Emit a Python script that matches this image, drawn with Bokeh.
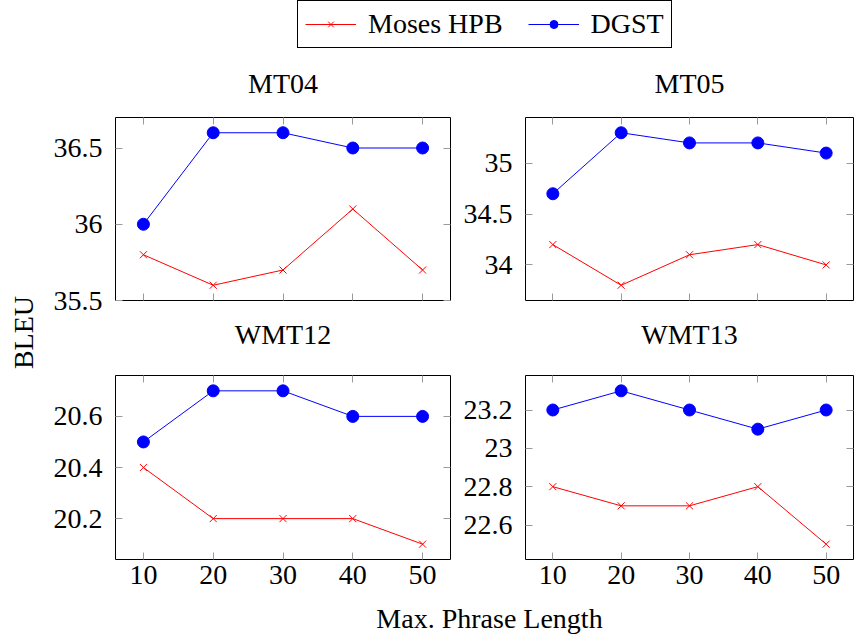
import math
from bokeh.plotting import figure
from bokeh.models import (FixedTicker, CustomJSTickFormatter, LinearAxis, Range1d,
                          Legend, LegendItem, Label)
from bokeh.layouts import column, row
from bokeh.embed import file_html
from bokeh.resources import INLINE

# ---------------- data ----------------
phrase_len = [10, 20, 30, 40, 50]
x_ticks = [10, 20, 30, 40, 50]

mt04_moses = [35.8, 35.6, 35.7, 36.1, 35.7]
mt04_dgst = [36.0, 36.6, 36.6, 36.5, 36.5]
mt05_moses = [34.2, 33.8, 34.1, 34.2, 34.0]
mt05_dgst = [34.7, 35.3, 35.2, 35.2, 35.1]
wmt12_moses = [20.4, 20.2, 20.2, 20.2, 20.1]
wmt12_dgst = [20.5, 20.7, 20.7, 20.6, 20.6]
wmt13_moses = [22.8, 22.7, 22.7, 22.8, 22.5]
wmt13_dgst = [23.2, 23.3, 23.2, 23.1, 23.2]

mt04_ticks = [35.5, 36, 36.5]
mt05_ticks = [34, 34.5, 35]
wmt12_ticks = [20.2, 20.4, 20.6]
wmt13_ticks = [22.6, 22.8, 23, 23.2]

series_names = ["Moses HPB", "DGST"]
titles = ["MT04", "MT05", "WMT12", "WMT13"]
x_label = "Max. Phrase Length"
y_label = "BLEU"

FONT = "Liberation Serif"
FS = "28px"
TICK_COLOR = "#9a9a9a"
RED = "#ff0000"
BLUE = "#0000ff"

num_fmt = CustomJSTickFormatter(code="return String(Math.round(tick*100)/100);")
blank_fmt = CustomJSTickFormatter(code="return '';")


def blank_fig(w, h, mbl=0, mbr=0):
    f = figure(width=w, height=h, title=None, x_range=Range1d(0, 1), y_range=Range1d(0, 1),
               output_backend="svg", toolbar_location=None,
               x_axis_location=None, y_axis_location=None,
               min_border_left=mbl, min_border_right=mbr, min_border_top=0, min_border_bottom=0)
    f.outline_line_color = None
    f.xgrid.visible = False
    f.ygrid.visible = False
    return f


def style_axis(ax, ticks, labels, standoff):
    ax.ticker = FixedTicker(ticks=ticks)
    ax.formatter = num_fmt if labels else blank_fmt
    ax.major_tick_in = 7
    ax.major_tick_out = 0
    ax.minor_tick_line_color = None
    ax.axis_line_color = None
    ax.major_tick_line_color = TICK_COLOR
    ax.major_tick_line_width = 1
    ax.major_label_text_font = FONT
    ax.major_label_text_font_size = FS if labels else "1px"
    ax.major_label_text_color = "black"
    ax.major_label_standoff = standoff if labels else 0


def panel(title, moses, dgst, yticks, width, th, title_y, height, mbl, mbr, mbt, mbb, xlabels):
    # title strip with the same side borders, so its centre lines up with the frame
    tf = blank_fig(width, th, mbl, mbr)
    tf.add_layout(Label(x=0.5, y=title_y, y_units="screen", text=title,
                        text_align="center", text_baseline="middle",
                        text_font=FONT, text_font_size=FS, text_color="black"))
    xlo, xhi = min(phrase_len), max(phrase_len)
    dx = 0.1 * (xhi - xlo)
    ys = moses + dgst
    ylo, yhi = min(ys), max(ys)
    dy = 0.1 * (yhi - ylo)
    p = figure(width=width, height=height, title=None,
               x_range=Range1d(xlo - dx, xhi + dx), y_range=Range1d(ylo - dy, yhi + dy),
               output_backend="svg", toolbar_location=None,
               min_border_left=mbl, min_border_right=mbr,
               min_border_top=mbt, min_border_bottom=mbb)
    p.xgrid.visible = False
    p.ygrid.visible = False
    p.outline_line_color = "black"
    p.outline_line_width = 1
    p.outline_line_alpha = 1
    style_axis(p.xaxis[0], x_ticks, xlabels, 6)
    style_axis(p.yaxis[0], yticks, True, 13)
    top = LinearAxis()
    style_axis(top, x_ticks, False, 0)
    p.add_layout(top, "above")
    right = LinearAxis()
    style_axis(right, yticks, False, 0)
    p.add_layout(right, "right")
    p.line(phrase_len, moses, line_color=RED, line_width=1)
    p.scatter(phrase_len, moses, marker="x", size=10, line_color=RED, line_width=1)
    p.line(phrase_len, dgst, line_color=BLUE, line_width=1)
    p.scatter(phrase_len, dgst, marker="circle", size=12, fill_color=BLUE, line_color=BLUE)
    return column(tf, p)


p1 = panel(titles[0], mt04_moses, mt04_dgst, mt04_ticks, 415, 48, 21, 212, 75, 5, 13, 16, False)
p2 = panel(titles[1], mt05_moses, mt05_dgst, mt05_ticks, 400, 48, 21, 212, 70, 2, 13, 16, False)
p3 = panel(titles[2], wmt12_moses, wmt12_dgst, wmt12_ticks, 415, 44, 26, 240, 75, 5, 15, 41, True)
p4 = panel(titles[3], wmt13_moses, wmt13_dgst, wmt13_ticks, 400, 44, 26, 240, 70, 2, 15, 41, True)

# ---------------- legend ----------------
lf = blank_fig(855, 56)
# renderers carry real series data that lies outside this strip's ranges, only their legend glyphs show
r1l = lf.line(phrase_len, mt04_moses, line_color=RED, line_width=1)
r1s = lf.scatter(phrase_len, mt04_moses, marker="x", size=10, line_color=RED, line_width=1)
r2l = lf.line(phrase_len, mt04_dgst, line_color=BLUE, line_width=1)
r2s = lf.scatter(phrase_len, mt04_dgst, marker="circle", size=12, fill_color=BLUE, line_color=BLUE)
legend = Legend(items=[LegendItem(label=series_names[0], renderers=[r1l, r1s]),
                       LegendItem(label=series_names[1], renderers=[r2l, r2s])],
                orientation="horizontal", location=(297, 8), margin=0,
                padding=7, spacing=25, glyph_width=51, glyph_height=20, label_standoff=12,
                label_text_font=FONT, label_text_font_size=FS, label_text_color="black",
                border_line_color="black", border_line_width=1, border_line_alpha=1,
                background_fill_alpha=1)
lf.add_layout(legend, "center")

# ---------------- y label ----------------
yf = blank_fig(40, 544)
yf.add_layout(Label(x=23, y=268, x_units="screen", y_units="screen", text=y_label,
                    angle=math.pi / 2, text_align="center", text_baseline="middle",
                    text_font=FONT, text_font_size=FS, text_color="black"))

# ---------------- x label ----------------
xf = blank_fig(855, 34)
xf.add_layout(Label(x=489, y=16, x_units="screen", y_units="screen", text=x_label,
                    text_align="center", text_baseline="middle",
                    text_font=FONT, text_font_size=FS, text_color="black"))

layout = column(lf, row(yf, column(row(p1, p2), row(p3, p4))), xf)

open("out.html", "w").write(file_html(layout, INLINE))
